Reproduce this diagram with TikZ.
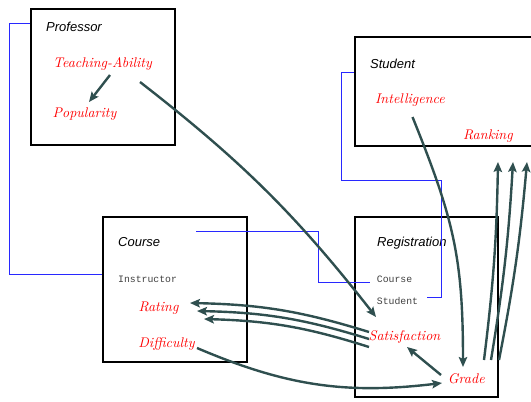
\documentclass[tikz,border=0pt]{standalone}
\usepackage{fontspec}
\setmonofont{Liberation Mono}
\newfontfamily\headfont{Liberation Sans}
\newfontfamily\attrfont{lmroman10-italic}[Extension=.otf]
\usetikzlibrary{arrows.meta,calc}
\definecolor{depgray}{RGB}{47,79,79}
\definecolor{linkblue}{RGB}{40,40,255}

\begin{document}
\begin{tikzpicture}[x=1pt,y=1pt,
    >={Stealth[length=10pt,width=8.5pt,inset=2pt]},
    frame/.style={draw,line width=1.6pt,inner sep=0pt},
    title/.style={anchor=base west,inner sep=0pt,font=\headfont\itshape\fontsize{13}{15}\selectfont},
    attr/.style={anchor=base,inner sep=0pt,text=red,font=\attrfont\fontsize{14}{16}\selectfont},
    slot/.style={anchor=base west,inner sep=0pt,text=black!75,font=\ttfamily\fontsize{9.8}{12}\selectfont},
    dep/.style={->,draw=depgray,line width=2.4pt},
    link/.style={draw=linkblue,line width=0.8pt}]
    \useasboundingbox (0,0) rectangle (531,-402);
    \node [frame,minimum width=144pt,minimum height=136pt] (prof) at (103,-77) {};
    \node [frame,minimum width=190pt,minimum height=109pt] (stud) at (450,-91.5) {};
    \node [frame,minimum width=144pt,minimum height=145pt] (course) at (175,-289.5) {};
    \node [frame,minimum width=143pt,minimum height=180pt] (reg) at (426.5,-307) {};
    \node [title] (proft) at (46,-31) {Professor};
    \node [title] (studt) at (370,-68) {Student};
    \node [title] (courset) at (118,-246) {Course};
    \node [title] (regt) at (377,-246) {Registration};
    \node [slot] (instr) at (118,-282) {Instructor};
    \node [slot] (rcourse) at (376.7,-282) {Course};
    \node [slot] (rstud) at (376.7,-304) {Student};
    \node [attr] (tabil) at (102.5,-67) {Teaching-Ability};
    \node [attr] (popul) at (84.5,-117) {Popularity};
    \node [attr] (intel) at (410,-103) {Intelligence};
    \node [attr] (rank) at (488,-139) {Ranking};
    \node [attr] (rating) at (158.5,-311) {Rating};
    \node [attr] (diff) at (166.5,-347) {Difficulty};
    \node [attr] (satis) at (404.5,-340) {Satisfaction};
    \node [attr] (grade) at (466.3,-383) {Grade};
    \draw [link] ([yshift=-15pt]prof.north west) -- ++(-21,0) |- ([yshift=15.5pt]course.west);
    \draw [link] ($(course.north west)+(94,-15)$) -- ++(122,0) |- ([xshift=-7pt]rcourse.base west);
    \draw [link] ([yshift=-36pt]stud.north west) -- ++(-13,0) -- ++(0,-108) -- ++(100,0) |- ([xshift=9pt,yshift=7pt]rstud.base east);
    \draw [dep] ($(tabil.base)+(7.5,-8)$) to ($(popul.base)+(4.5,15)$);
    \draw [dep] ($(tabil.base)+(37.5,-15)$) to [bend left=7] ($(satis.base)+(-28.5,23)$);
    \draw [dep] ($(intel.base)+(2.5,-14)$) to [out=-68,in=90,looseness=1.1] ($(grade.base)+(-3.3,16)$);
    \foreach \s/\e in {17.7/10,24.7/25,32.7/39}
      \draw [dep] ($(grade.base)+(\s,23)$) to [bend right=3] ($(rank.base)+(\e,-23)$);
    \foreach \s/\x/\e in {8/31.5/8,1/38.5/0,-7/45.5/-8}
      \draw [dep] ($(satis.base)+(-35.5,\s)$) to [bend right=8] ($(rating.base)+(\x,\e)$);
    \draw [dep] ($(diff.base)+(30.5,-1)$) to [bend right=15] ($(grade.base)+(-24.3,0)$);
    \draw [dep] ($(grade.base)+(-25.3,8)$) to ($(satis.base)+(2.5,-7)$);
  \end{tikzpicture}
\end{document}
